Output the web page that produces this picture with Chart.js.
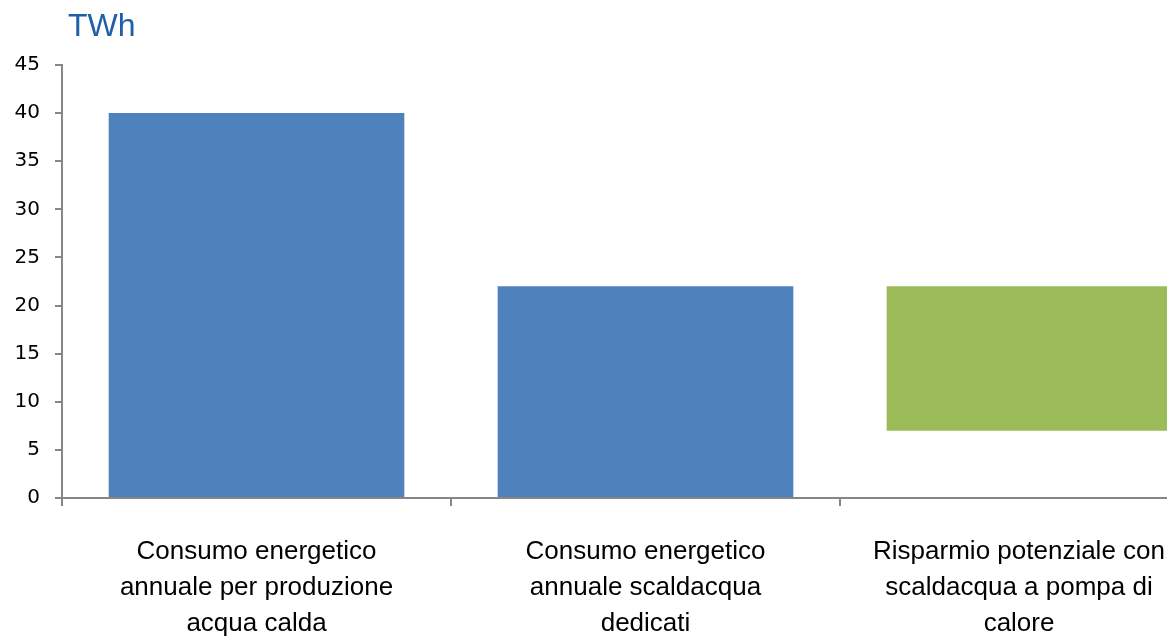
<!DOCTYPE html>
<html>
<head>
<meta charset="utf-8">
<script src="https://cdn.jsdelivr.net/npm/chart.js@4.4.1/dist/chart.umd.min.js"></script>
<style>
  html, body { margin: 0; padding: 0; background: #fff; overflow: hidden; }
  #wrap { position: relative; width: 1229px; height: 642px; }
  #unit {
    position: absolute; left: 68px; top: 7px;
    font-family: 'Liberation Sans', Arial, sans-serif; font-size: 32px; color: #1f5ea8;
  }
</style>
</head>
<body>
<div id="wrap">
  <canvas id="barChart"></canvas>
  <div id="unit">TWh</div>
</div>
<script>
// ── Data ──────────────────────────────────────────────────────────────────────
const CATEGORIES = [
  ['Consumo energetico', 'annuale per produzione', 'acqua calda'],
  ['Consumo energetico', 'annuale scaldacqua', 'dedicati'],
  ['Risparmio potenziale con', 'scaldacqua a pompa di', 'calore'],
];
const BAR_START = [0, 0, 7];
const BAR_END   = [40, 22, 22];
const BAR_COLORS = ['#4f81bd', '#4f81bd', '#9bbb59'];
const Y_TICKS = { min: 0, max: 45, step: 5 };

const AXIS_GREY = '#868686';
const LABEL_FONT = "26px 'Liberation Sans', Arial, sans-serif";
const LABEL_LINE = 36;

// ── Category labels: centred under each tick, but kept inside the visible window ──
const categoryLabels = {
  id: 'categoryLabels',
  afterDraw(chart) {
    const { ctx, scales: { x } } = chart;
    const right = window.innerWidth - 2;
    ctx.save();
    ctx.font = LABEL_FONT;
    ctx.fillStyle = '#000';
    ctx.textAlign = 'center';
    ctx.textBaseline = 'middle';
    x.ticks.forEach((t, i) => {
      const lines = chart.data.labels[i];
      const w = Math.max(...lines.map(l => ctx.measureText(l).width));
      const cx = Math.min(x.getPixelForTick(i), right - w / 2);
      const top = x.top + 8 + 28;
      lines.forEach((l, j) => ctx.fillText(l, cx, top + LABEL_LINE * (j + 0.5)));
    });
    ctx.restore();
  },
};

// ── Bar chart ─────────────────────────────────────────────────────────────────
new Chart(document.getElementById('barChart'), {
  type: 'bar',
  data: {
    labels: CATEGORIES,
    datasets: [{
      data: BAR_START.map((s, i) => [s, BAR_END[i]]),
      backgroundColor: BAR_COLORS,
      borderWidth: 0,
      barPercentage: 0.76,
      categoryPercentage: 1,
    }],
  },
  plugins: [categoryLabels],
  options: {
    responsive: true,
    maintainAspectRatio: false,
    animation: false,
    layout: { padding: { top: 65, left: 0, right: 0, bottom: 0 } },
    plugins: { legend: { display: false }, tooltip: { enabled: false } },
    scales: {
      x: {
        afterFit: s => { s.height = 144; },
        grid: { drawOnChartArea: false, color: AXIS_GREY, lineWidth: 2, tickLength: 8, offset: true },
        border: { color: AXIS_GREY, width: 2 },
        ticks: { display: false },
      },
      y: {
        min: Y_TICKS.min, max: Y_TICKS.max,
        afterFit: s => { s.width = 62; },
        grid: { drawOnChartArea: false, color: AXIS_GREY, lineWidth: 2, tickLength: 7 },
        border: { color: AXIS_GREY, width: 2 },
        ticks: {
          stepSize: Y_TICKS.step, padding: 15, color: '#000',
          font: { family: "'DejaVu Sans', Verdana, sans-serif", size: 20 },
        },
      },
    },
  },
});
</script>
</body>
</html>
